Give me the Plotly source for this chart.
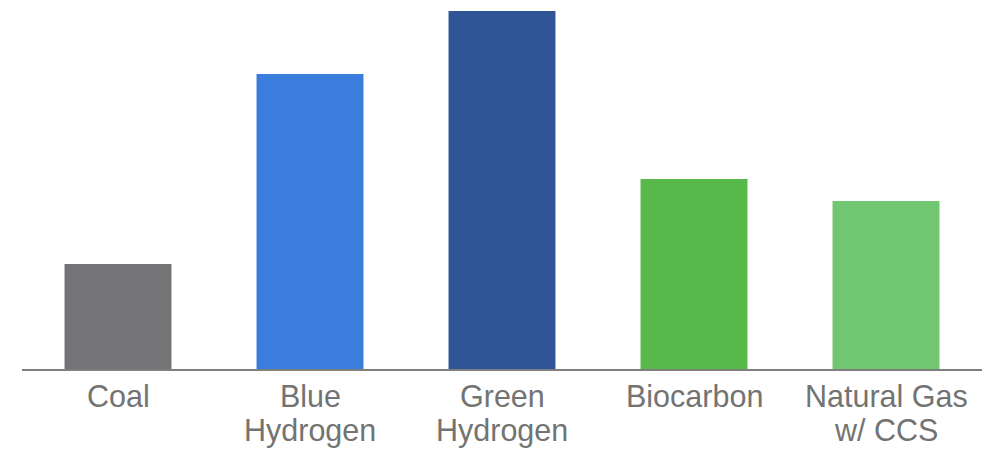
import plotly.graph_objects as go

# Categories (line breaks marked with <br>) and bar values
categories = ["Coal", "Blue<br>Hydrogen", "Green<br>Hydrogen", "Biocarbon", "Natural Gas<br>w/ CCS"]
values = [105, 295, 358, 190, 168]
bar_colors = ["#747476", "#3b7ddc", "#2f5597", "#56b94a", "#71c672"]

label_font = dict(family="Liberation Sans, Arial, sans-serif", size=30.5, color="#737373")

fig = go.Figure(
    go.Bar(
        x=list(range(len(categories))),
        y=values,
        marker=dict(color=bar_colors, line=dict(width=0)),
        hoverinfo="skip",
    )
)

# Category labels: one annotation per text line for tight line spacing
annotations = []
for i, cat in enumerate(categories):
    for j, line in enumerate(cat.split("<br>")):
        annotations.append(
            dict(
                x=i, xref="x", y=0, yref="paper",
                text=line, showarrow=False,
                xanchor="center", yanchor="top",
                yshift=-9 - 34 * j,
                borderpad=0,
                font=label_font,
            )
        )

fig.update_layout(
    width=992, height=449,
    margin=dict(l=22, r=10, t=11, b=80),
    paper_bgcolor="white", plot_bgcolor="white",
    bargap=0.443,
    showlegend=False,
    annotations=annotations,
    xaxis=dict(
        range=[-0.5, len(categories) - 0.5],
        showticklabels=False, showgrid=False, zeroline=False,
        showline=True, linecolor="#7f7f7f", linewidth=2, ticks="",
    ),
    yaxis=dict(
        range=[0, max(values)],
        visible=False, showgrid=False, zeroline=False,
    ),
)

fig.write_html("out.html")
